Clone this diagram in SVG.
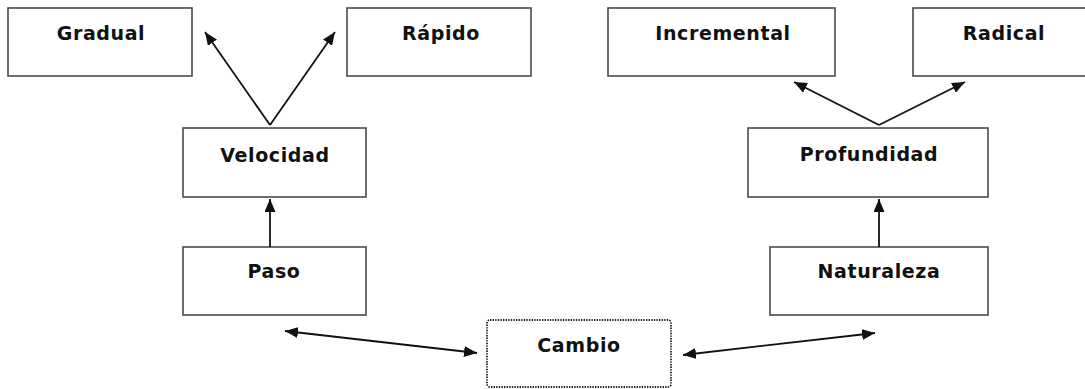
<svg xmlns="http://www.w3.org/2000/svg" width="1085" height="389" viewBox="0 0 1085 389">
  <style>
    .box { fill: #ffffff; stroke: #4a4a4a; stroke-width: 1.6; }
    .dotted { fill: #ffffff; stroke: #222222; stroke-width: 1.8; stroke-dasharray: 1.4 1.2; }
    .label { font-family: "DejaVu Sans", "Liberation Sans", sans-serif; font-weight: bold; font-size: 19px; letter-spacing: 0.6px; fill: #111111; text-anchor: middle; }
    .link { stroke: #111111; stroke-width: 1.8; fill: none; }
  </style>
  <defs>
    <marker id="head" viewBox="0 0 13 11" refX="13" refY="5.5" markerWidth="13" markerHeight="11" markerUnits="userSpaceOnUse" orient="auto-start-reverse">
      <path d="M0,0 L13,5.5 L0,11 Z" fill="#111111"/>
    </marker>
  </defs>

  <rect width="1085" height="389" fill="#ffffff"/>

  <g id="node-gradual">
    <rect class="box" x="8" y="8" width="184" height="68"/>
    <text class="label" x="101" y="40">Gradual</text>
  </g>
  <g id="node-rapido">
    <rect class="box" x="347" y="8" width="184" height="68"/>
    <text class="label" x="441" y="40">Rápido</text>
  </g>
  <g id="node-incremental">
    <rect class="box" x="608" y="8" width="227" height="68"/>
    <text class="label" x="723" y="40">Incremental</text>
  </g>
  <g id="node-radical">
    <rect class="box" x="913" y="8" width="185" height="68"/>
    <text class="label" x="1004" y="40">Radical</text>
  </g>
  <g id="node-velocidad">
    <rect class="box" x="183" y="128" width="183" height="69"/>
    <text class="label" x="275" y="162">Velocidad</text>
  </g>
  <g id="node-profundidad">
    <rect class="box" x="748" y="128" width="240" height="69"/>
    <text class="label" x="869" y="161">Profundidad</text>
  </g>
  <g id="node-paso">
    <rect class="box" x="183" y="247" width="183" height="68"/>
    <text class="label" x="274" y="278">Paso</text>
  </g>
  <g id="node-naturaleza">
    <rect class="box" x="770" y="247" width="218" height="68"/>
    <text class="label" x="879" y="278">Naturaleza</text>
  </g>
  <g id="node-cambio">
    <rect class="dotted" x="487" y="320" width="184" height="67" rx="3"/>
    <text class="label" x="579" y="352">Cambio</text>
  </g>

  <g id="connectors">
    <line class="link" x1="270" y1="125" x2="205" y2="32" marker-end="url(#head)"/>
    <line class="link" x1="270" y1="125" x2="335" y2="32" marker-end="url(#head)"/>
    <line class="link" x1="879" y1="125" x2="794" y2="82" marker-end="url(#head)"/>
    <line class="link" x1="879" y1="125" x2="965" y2="82" marker-end="url(#head)"/>
    <line class="link" x1="270" y1="247" x2="270" y2="199" marker-end="url(#head)"/>
    <line class="link" x1="879" y1="247" x2="879" y2="199" marker-end="url(#head)"/>
    <line class="link" x1="285" y1="331" x2="477" y2="353" marker-start="url(#head)" marker-end="url(#head)"/>
    <line class="link" x1="683" y1="355" x2="875" y2="333" marker-start="url(#head)" marker-end="url(#head)"/>
  </g>
</svg>
